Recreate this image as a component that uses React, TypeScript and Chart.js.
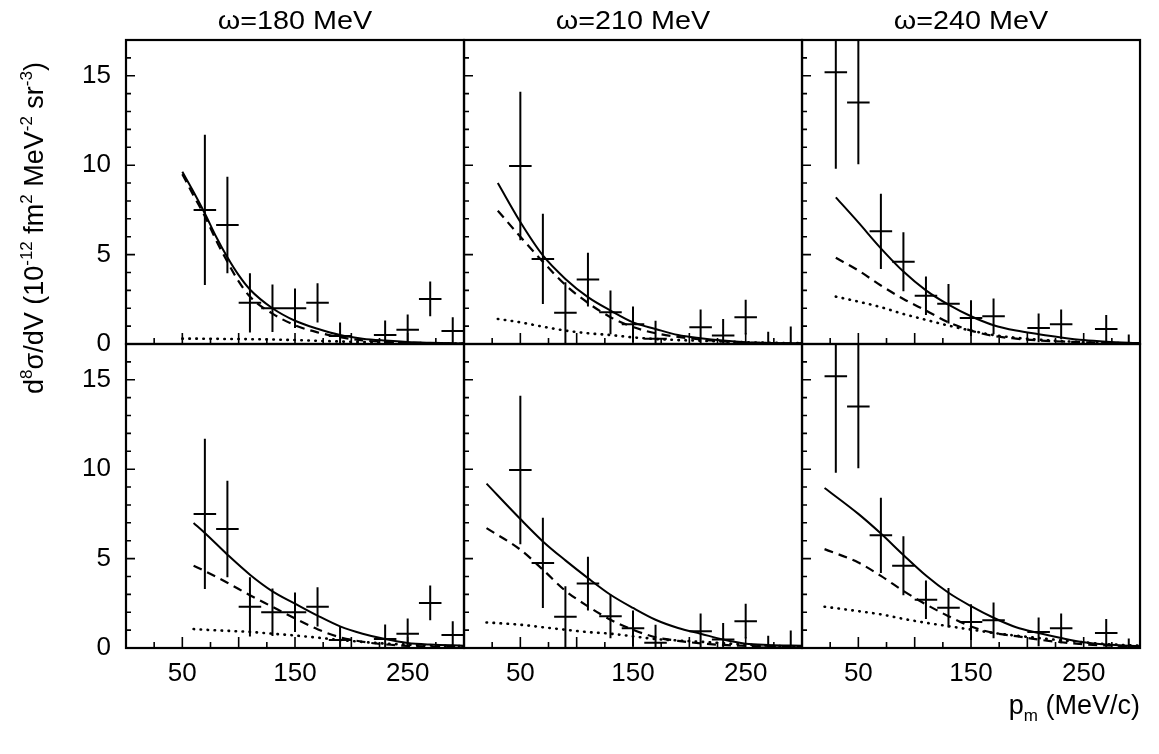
import React, { useEffect, useRef } from 'react';
import { Chart, registerables } from 'chart.js';

Chart.register(...registerables);

const FONT = '"Liberation Sans", Arial, Helvetica, sans-serif';

// ---- axis / text ----
const omegaTitles = ['ω=180 MeV', 'ω=210 MeV', 'ω=240 MeV'];
const xTickLabels = [50, 150, 250];
const yTickLabels = [0, 5, 10, 15];
const xMinorTicks = [25, 50, 75, 100, 125, 150, 175, 200, 225, 250, 275];
const yMinorTicks = [1, 2, 3, 4, 5, 6, 7, 8, 9, 10, 11, 12, 13, 14, 15, 16];
const X_MIN = 0;
const X_MAX = 300;
const Y_MIN = 0;
const Y_MAX = 17;
const BIN_HALF = 10; // MeV/c, half bin width
const yTitleParts: [string, number][] = [
  ['d', 0], ['8', 1], ['σ/dV (10', 0], ['-12', 1], [' fm', 0], ['2', 1],
  [' MeV', 0], ['-2', 1], [' sr', 0], ['-3', 1], [')', 0],
];
const xTitleParts: [string, number][] = [['p', 0], ['m', -1], [' (MeV/c)', 0]];

// ---- measured data (same in both rows) ----
const pm180 = [70, 90, 110, 130, 150, 170, 190, 230, 250, 270, 290];
const sig180 = [7.5, 6.65, 2.3, 2.0, 2.0, 2.3, 0.45, 0.5, 0.8, 2.52, 0.72];
const err180 = [4.2, 2.7, 1.65, 1.33, 1.1, 1.1, 0.75, 0.82, 0.85, 0.97, 0.78];

const pm210 = [50, 70, 90, 110, 130, 150, 170, 210, 230, 250, 270, 290];
const sig210 = [9.95, 4.76, 1.75, 3.6, 1.77, 1.1, 0.3, 0.93, 0.47, 1.5, 0.03, 0.03];
const err210 = [4.15, 2.52, 1.7, 1.5, 1.22, 1.0, 1.0, 1.0, 0.93, 0.97, 0.65, 0.95];

const pm240 = [30, 50, 70, 90, 110, 130, 150, 170, 210, 230, 270, 290];
const sig240 = [15.2, 13.5, 6.3, 4.6, 2.7, 2.25, 1.45, 1.55, 0.9, 1.1, 0.84, 0.03];
const err240 = [5.4, 3.45, 2.1, 1.65, 1.08, 1.1, 1.0, 1.0, 0.8, 0.83, 0.78, 0.5];

// ---- model curves: top row ----
const cx180top = [50, 60, 70, 80, 90, 100, 110, 130, 150, 170, 190, 210, 230, 250, 270, 300];
const solid180top = [9.63, 8.5, 7.3, 6.0, 4.85, 3.85, 3.05, 2.0, 1.3, 0.85, 0.5, 0.3, 0.19, 0.11, 0.07, 0.03];
const dashed180top = [9.5, 8.3, 7.15, 5.8, 4.6, 3.5, 2.65, 1.7, 1.05, 0.65, 0.38, 0.2, 0.12, 0.07, 0.04, 0.02];
const dotted180top = [0.3, 0.3, 0.29, 0.29, 0.28, 0.28, 0.27, 0.25, 0.22, 0.18, 0.14, 0.11, 0.08, 0.06, 0.04, 0.02];

const cx210top = [30, 50, 70, 90, 110, 130, 150, 170, 190, 210, 230, 250, 270, 300];
const solid210top = [9.0, 6.82, 4.95, 3.64, 2.62, 1.87, 1.21, 0.84, 0.5, 0.32, 0.19, 0.1, 0.06, 0.03];
const dashed210top = [7.45, 6.0, 4.6, 3.3, 2.3, 1.5, 0.95, 0.6, 0.4, 0.25, 0.15, 0.08, 0.05, 0.03];
const dotted210top = [1.4, 1.21, 0.97, 0.75, 0.6, 0.5, 0.37, 0.28, 0.22, 0.18, 0.14, 0.1, 0.07, 0.05];

const cx240top = [30, 50, 70, 90, 110, 130, 150, 170, 190, 210, 230, 250, 270, 300];
const solid240top = [8.2, 6.8, 5.35, 4.05, 3.0, 2.2, 1.55, 1.05, 0.75, 0.55, 0.37, 0.22, 0.13, 0.05];
const dashed240top = [4.82, 4.11, 3.27, 2.52, 1.87, 1.21, 0.75, 0.45, 0.3, 0.2, 0.14, 0.1, 0.06, 0.03];
const dotted240top = [2.65, 2.37, 2.06, 1.68, 1.35, 1.03, 0.75, 0.5, 0.35, 0.24, 0.16, 0.1, 0.06, 0.03];

// ---- model curves: bottom row ----
const cx180bot = [60, 70, 90, 110, 130, 150, 170, 190, 210, 230, 250, 270, 300];
const solid180bot = [6.99, 6.43, 5.22, 4.1, 3.17, 2.48, 1.81, 1.21, 0.8, 0.5, 0.28, 0.19, 0.13];
const dashed180bot = [4.6, 4.3, 3.65, 2.95, 2.3, 1.65, 1.05, 0.6, 0.35, 0.2, 0.12, 0.08, 0.05];
const dotted180bot = [1.06, 1.02, 0.96, 0.9, 0.8, 0.7, 0.58, 0.45, 0.34, 0.25, 0.19, 0.14, 0.1];

const cx210bot = [20, 50, 70, 90, 110, 130, 150, 170, 190, 210, 230, 250, 270, 300];
const solid210bot = [9.19, 7.21, 5.96, 4.9, 3.91, 2.98, 2.24, 1.58, 1.12, 0.8, 0.47, 0.24, 0.17, 0.13];
const dashed210bot = [6.7, 5.5, 4.38, 3.2, 2.33, 1.58, 1.02, 0.6, 0.4, 0.26, 0.17, 0.12, 0.08, 0.05];
const dotted210bot = [1.43, 1.3, 1.16, 1.02, 0.89, 0.8, 0.65, 0.5, 0.42, 0.35, 0.27, 0.19, 0.13, 0.08];

const cx240bot = [20, 50, 70, 90, 110, 130, 150, 170, 190, 210, 230, 250, 270, 300];
const solid240bot = [8.95, 7.5, 6.4, 5.2, 4.05, 3.09, 2.34, 1.69, 1.16, 0.84, 0.56, 0.32, 0.19, 0.09];
const dashed240bot = [5.53, 4.78, 4.03, 3.19, 2.44, 1.78, 1.2, 0.84, 0.66, 0.47, 0.32, 0.21, 0.14, 0.09];
const dotted240bot = [2.31, 2.06, 1.88, 1.63, 1.41, 1.22, 1.03, 0.84, 0.69, 0.56, 0.43, 0.32, 0.22, 0.13];

const xIds = ['x0', 'x1', 'x2'];
const yIds = ['yTop', 'yBot'];

const panels = [
  { x: 'x0', y: 'yTop', pm: pm180, sig: sig180, err: err180, cx: cx180top, solid: solid180top, dashed: dashed180top, dotted: dotted180top },
  { x: 'x1', y: 'yTop', pm: pm210, sig: sig210, err: err210, cx: cx210top, solid: solid210top, dashed: dashed210top, dotted: dotted210top },
  { x: 'x2', y: 'yTop', pm: pm240, sig: sig240, err: err240, cx: cx240top, solid: solid240top, dashed: dashed240top, dotted: dotted240top },
  { x: 'x0', y: 'yBot', pm: pm180, sig: sig180, err: err180, cx: cx180bot, solid: solid180bot, dashed: dashed180bot, dotted: dotted180bot },
  { x: 'x1', y: 'yBot', pm: pm210, sig: sig210, err: err210, cx: cx210bot, solid: solid210bot, dashed: dashed210bot, dotted: dotted210bot },
  { x: 'x2', y: 'yBot', pm: pm240, sig: sig240, err: err240, cx: cx240bot, solid: solid240bot, dashed: dashed240bot, dotted: dotted240bot },
];

function errorSegments(xs: number[], ys: number[], es: number[]) {
  const out: { x: number; y: number | null }[] = [];
  xs.forEach((x, i) => {
    out.push({ x: x - BIN_HALF, y: ys[i] }, { x: x + BIN_HALF, y: ys[i] }, { x, y: null });
    out.push({ x, y: ys[i] - es[i] }, { x, y: ys[i] + es[i] }, { x, y: null });
  });
  return out;
}

function curve(xs: number[], ys: number[]) {
  return xs.map((x, i) => ({ x, y: ys[i] }));
}

function drawParts(ctx: CanvasRenderingContext2D, parts: [string, number][], size: number, supSize: number, startU: number) {
  let u = startU;
  for (const [t, kind] of parts) {
    ctx.font = `${kind === 0 ? size : supSize}px ${FONT}`;
    const off = kind === 1 ? -size * 0.42 : kind === -1 ? size * 0.25 : 0;
    ctx.fillText(t, u, off);
    u += ctx.measureText(t).width;
  }
  return u;
}

function partsWidth(ctx: CanvasRenderingContext2D, parts: [string, number][], size: number, supSize: number) {
  let w = 0;
  for (const [t, kind] of parts) {
    ctx.font = `${kind === 0 ? size : supSize}px ${FONT}`;
    w += ctx.measureText(t).width;
  }
  return w;
}

const framePlugin = {
  id: 'frames',
  afterDatasetsDraw(chart: any) {
    const ctx: CanvasRenderingContext2D = chart.ctx;
    ctx.save();
    ctx.strokeStyle = '#000';
    ctx.fillStyle = '#000';
    for (const xid of xIds) {
      for (const yid of yIds) {
        const xs = chart.scales[xid];
        const ys = chart.scales[yid];
        ctx.lineWidth = 1.6;
        ctx.beginPath();
        for (const v of yMinorTicks) {
          const py = ys.getPixelForValue(v);
          const len = v % 5 === 0 ? 9 : 5;
          ctx.moveTo(xs.left, py);
          ctx.lineTo(xs.left + len, py);
        }
        for (const v of xMinorTicks) {
          const px = xs.getPixelForValue(v);
          const len = v % 50 === 0 ? 11 : 6;
          ctx.moveTo(px, ys.bottom);
          ctx.lineTo(px, ys.bottom - len);
        }
        ctx.stroke();
        ctx.lineWidth = 2.2;
        ctx.strokeRect(xs.left, ys.top, xs.right - xs.left, ys.bottom - ys.top);
      }
    }
    ctx.restore();

    // column titles
    ctx.save();
    ctx.fillStyle = '#000';
    ctx.font = `25px ${FONT}`;
    ctx.textAlign = 'center';
    ctx.textBaseline = 'alphabetic';
    xIds.forEach((id, i) => {
      const s = chart.scales[id];
      ctx.save();
      ctx.translate((s.left + s.right) / 2, 29);
      ctx.scale(1.15, 1);
      ctx.fillText(omegaTitles[i], 0, 0);
      ctx.restore();
    });
    ctx.restore();

    // y title (rotated)
    const area = chart.chartArea;
    ctx.save();
    ctx.fillStyle = '#000';
    ctx.textAlign = 'left';
    ctx.textBaseline = 'alphabetic';
    const ySize = 27;
    const ySup = 17;
    const yw = partsWidth(ctx, yTitleParts, ySize, ySup);
    const yCenter = chart.scales.yTop.top + 188;
    ctx.translate(43, yCenter);
    ctx.rotate(-Math.PI / 2);
    drawParts(ctx, yTitleParts, ySize, ySup, -yw / 2);
    ctx.restore();

    // x title
    ctx.save();
    ctx.fillStyle = '#000';
    ctx.textAlign = 'left';
    ctx.textBaseline = 'alphabetic';
    const xSize = 27;
    const xSub = 17;
    const xw = partsWidth(ctx, xTitleParts, xSize, xSub);
    ctx.translate(area.right - xw, area.bottom + 66);
    drawParts(ctx, xTitleParts, xSize, xSub, 0);
    ctx.restore();
  },
};

export default function App() {
  const ref = useRef<HTMLCanvasElement | null>(null);
  useEffect(() => {
    if (!ref.current) return;
    const datasets: any[] = [];
    panels.forEach((p) => {
      const common = {
        xAxisID: p.x,
        yAxisID: p.y,
        borderColor: '#000',
        backgroundColor: '#000',
        pointRadius: 0,
        fill: false,
      };
      datasets.push({ ...common, type: 'line', data: curve(p.cx, p.solid), borderWidth: 2, cubicInterpolationMode: 'monotone' });
      datasets.push({ ...common, type: 'line', data: curve(p.cx, p.dashed), borderWidth: 2.2, borderDash: [9, 6], cubicInterpolationMode: 'monotone' });
      datasets.push({ ...common, type: 'line', data: curve(p.cx, p.dotted), borderWidth: 2.6, borderDash: [0.5, 6.5], borderCapStyle: 'round', cubicInterpolationMode: 'monotone' });
      datasets.push({ ...common, type: 'line', data: errorSegments(p.pm, p.sig, p.err), borderWidth: 2, spanGaps: false, tension: 0 });
    });

    const xScale = () => ({
      type: 'linear',
      position: 'bottom',
      stack: 'cols',
      min: X_MIN,
      max: X_MAX,
      afterBuildTicks: (s: any) => { s.ticks = xTickLabels.map((v) => ({ value: v })); },
      afterFit: (s: any) => { s.height = 106; },
      ticks: { autoSkip: false, maxRotation: 0, padding: 10, color: '#000', font: { family: FONT, size: 26 } },
      grid: { display: false, drawTicks: false },
      border: { display: false },
    });
    const yScale = (weight: number) => ({
      type: 'linear',
      position: 'left',
      stack: 'rows',
      weight,
      min: Y_MIN,
      max: Y_MAX,
      afterBuildTicks: (s: any) => { s.ticks = yTickLabels.map((v) => ({ value: v })); },
      afterFit: (s: any) => { s.width = 126; },
      ticks: { autoSkip: false, padding: 15, color: '#000', font: { family: FONT, size: 26 } },
      grid: { display: false, drawTicks: false },
      border: { display: false },
    });

    const chart = new Chart(ref.current, {
      type: 'line',
      data: { datasets },
      options: {
        animation: false,
        responsive: false,
        devicePixelRatio: 1,
        events: [],
        layout: { padding: { top: 40, right: 16, left: 0, bottom: 0 } },
        plugins: { legend: { display: false }, tooltip: { enabled: false }, title: { display: false } },
        scales: {
          x0: xScale(),
          x1: xScale(),
          x2: xScale(),
          yTop: yScale(1),
          yBot: yScale(0),
        } as any,
      },
      plugins: [framePlugin],
    } as any);
    return () => chart.destroy();
  }, []);

  return (
    <div style={{ position: 'absolute', left: 0, top: 0, width: 1159, height: 754, background: '#fff' }}>
      <canvas ref={ref} width={1159} height={754} style={{ display: 'block' }} />
    </div>
  );
}
